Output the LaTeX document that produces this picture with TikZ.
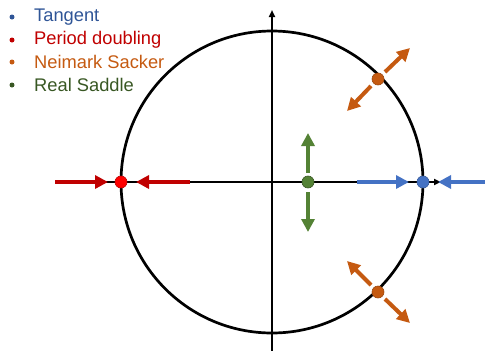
\documentclass[tikz,border=0pt]{standalone}
\usepackage{fontspec}
\setmainfont{Liberation Sans}
\usetikzlibrary{arrows.meta}
\definecolor{cblue}{HTML}{4472C4}
\definecolor{cbluet}{HTML}{2F5597}
\definecolor{cred}{HTML}{C00000}
\definecolor{cdot}{HTML}{FF0000}
\definecolor{corange}{HTML}{C55A11}
\definecolor{cgreen}{HTML}{548235}
\definecolor{cgreent}{HTML}{385723}
\begin{document}
\begin{tikzpicture}[x=1pt,y=-1pt,
  axis/.style={line width=2pt,-{Triangle[length=7pt,width=6pt]}},
  flow/.style={line width=4pt,-{Triangle[length=13pt,width=13pt]}},
  fixpt/.style={circle,inner sep=0pt,minimum size=12pt,line width=0.6pt},
  legtext/.style={anchor=west,font=\fontsize{18.3}{20}\selectfont,inner sep=0pt},
  bul/.style={circle,inner sep=0pt,minimum size=5pt}]
\useasboundingbox (0,0) rectangle (485,351);
% axes
\coordinate (xl) at (55,182);
\coordinate (xr) at (441,182);
\coordinate (yb) at (272,351);
\coordinate (yt) at (272,10);
\draw[axis] (xl) -- (xr);
\draw[axis] (yb) -- (yt);
% unit circle
\node[circle,draw,line width=2.7pt,minimum size=302pt,inner sep=0pt] (uc) at (272,182) {};
% fixed points
\coordinate (pr) at (121,182);
\coordinate (pb) at (423,182);
\coordinate (pg) at (308,182);
\coordinate (po1) at (378,79);
\coordinate (po2) at (378,292);
% red
\coordinate (r1s) at (55,182); \coordinate (r1e) at (108,182);
\coordinate (r2s) at (190,182); \coordinate (r2e) at (136,182);
\draw[flow,cred] (r1s) -- (r1e);
\draw[flow,cred] (r2s) -- (r2e);
% blue
\coordinate (b1s) at (357,182); \coordinate (b1e) at (409,182);
\coordinate (b2s) at (485,182); \coordinate (b2e) at (438,182);
\draw[flow,cblue] (b1s) -- (b1e);
\draw[flow,cblue] (b2s) -- (b2e);
% green
\coordinate (g1s) at (308,173); \coordinate (g1e) at (308,133);
\coordinate (g2s) at (308,192); \coordinate (g2e) at (308,232);
\draw[flow,cgreen] (g1s) -- (g1e);
\draw[flow,cgreen] (g2s) -- (g2e);
% orange
\coordinate (o1s) at (385,72); \coordinate (o1e) at (410,48);
\coordinate (o2s) at (371,86); \coordinate (o2e) at (347,111);
\coordinate (o3s) at (371,285); \coordinate (o3e) at (347,261);
\coordinate (o4s) at (385,299); \coordinate (o4e) at (410,323);
\draw[flow,corange] (o1s) -- (o1e);
\draw[flow,corange] (o2s) -- (o2e);
\draw[flow,corange] (o3s) -- (o3e);
\draw[flow,corange] (o4s) -- (o4e);
% dots
\node[fixpt,fill=cdot,draw=cred] (dr) at (pr) {};
\node[fixpt,fill=cblue,draw=cblue!80!black] (db) at (pb) {};
\node[fixpt,fill=cgreen,draw=cgreent] (dg) at (pg) {};
\node[fixpt,fill=corange,draw=corange!80!black] (do1) at (po1) {};
\node[fixpt,fill=corange,draw=corange!80!black] (do2) at (po2) {};
% legend
\node[bul,fill=cbluet] (l1b) at (12,17) {};
\node[legtext,text=cbluet] (l1) at (34,17) {Tangent};
\node[bul,fill=cred] (l2b) at (12,40) {};
\node[legtext,text=cred] (l2) at (34,40) {Period doubling};
\node[bul,fill=corange] (l3b) at (12,62) {};
\node[legtext,text=corange] (l3) at (34,62) {Neimark Sacker};
\node[bul,fill=cgreent] (l4b) at (12,85) {};
\node[legtext,text=cgreent] (l4) at (34,85) {Real Saddle};
\end{tikzpicture}
\end{document}
